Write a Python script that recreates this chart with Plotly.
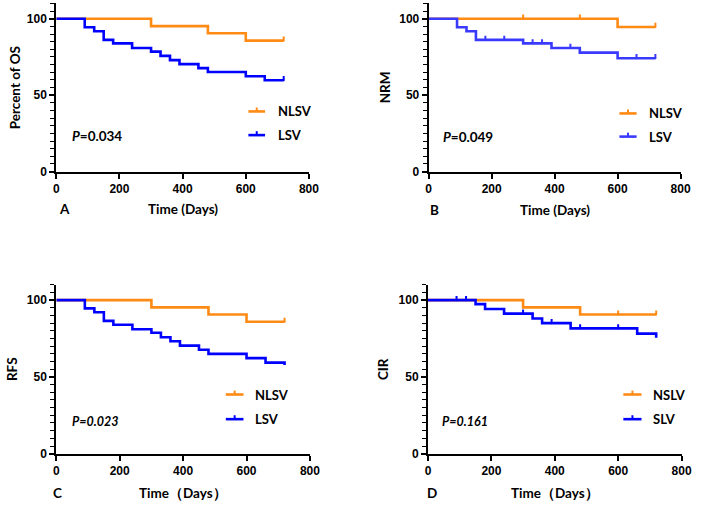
import plotly.graph_objects as go

W, H = 705, 510
ORANGE = "#FF8A14"
BLUE = "#0000FF"
BLUE_B = "#3A3AFF"

# ---------------- data ----------------
# Panel A : OS
a_nlsv_t = [0, 300, 480, 600, 720]
a_nlsv_s = [100, 95.2, 90.5, 85.7, 85.7]
a_lsv_t = [0, 90, 120, 150, 180, 240, 300, 330, 360, 390, 450, 480, 600, 660, 720]
a_lsv_s = [100, 94.4, 91.8, 86.2, 83.9, 80.9, 78.5, 75.7, 72.9, 70.3, 67.7, 65.2, 62.4, 59.8, 59.8]
a_nlsv_cens = [720]
a_lsv_cens = [720]

# Panel B : NRM
b_nlsv_t = [0, 600, 720]
b_nlsv_s = [100, 94.6, 94.6]
b_lsv_t = [0, 90, 120, 150, 300, 390, 480, 600, 720]
b_lsv_s = [100, 94.4, 91.8, 86.2, 83.9, 80.9, 77.8, 74.2, 74.2]
b_nlsv_cens = [300, 480, 720]
b_lsv_cens = [180, 240, 330, 360, 450, 660, 720]

# Panel C : RFS
c_nlsv_t = [0, 300, 480, 600, 720]
c_nlsv_s = [100, 95.3, 90.6, 85.9, 85.9]
c_lsv_t = [0, 90, 120, 150, 180, 240, 300, 330, 360, 390, 450, 480, 600, 660, 720]
c_lsv_s = [100, 94.6, 92.1, 86.5, 84.0, 81.0, 78.8, 75.8, 73.2, 70.4, 67.7, 65.0, 62.2, 59.3, 57.8]
c_nlsv_cens = [720]
c_lsv_cens = []

# Panel D : CIR
d_nslv_t = [0, 300, 480, 720]
d_nslv_s = [100, 95.3, 90.6, 90.6]
d_slv_t = [0, 150, 180, 240, 330, 360, 450, 660, 720]
d_slv_s = [100, 97.4, 94.2, 91.2, 88.0, 85.0, 81.6, 78.2, 75.5]
d_nslv_cens = [600, 720]
d_slv_cens = [90, 120, 300, 390, 480, 600]

x_ticks = [0, 200, 400, 600, 800]
y_ticks = [0, 50, 100]


def step_at(ts, ss, t):
    v = ss[0]
    for ti, si in zip(ts, ss):
        if ti <= t:
            v = si
    return v


panels = [
    dict(name="A", ytitle="Percent of OS", xtitle="Time (Days)", p="<b><i>P</i>=0.034</b>",
         groups=[("NLSV", a_nlsv_t, a_nlsv_s, a_nlsv_cens, ORANGE),
                 ("LSV", a_lsv_t, a_lsv_s, a_lsv_cens, BLUE)],
         x0=54.3, x1=311.7, y0=174.0, y100=19.0,
         yt_x=12, lbl=(55, 212), pxy=(68, 138), leg=(250, 267, 113, 137, 278)),
    dict(name="B", ytitle="NRM", xtitle="Time (Days)", p="<b><i>P</i>=0.049</b>",
         groups=[("NLSV", b_nlsv_t, b_nlsv_s, b_nlsv_cens, ORANGE),
                 ("LSV", b_lsv_t, b_lsv_s, b_lsv_cens, BLUE_B)],
         x0=433.7, x1=690.3, y0=174.0, y100=19.0,
         yt_x=389, lbl=(433, 213), pxy=(446, 139), leg=(628, 645.5, 115, 138.5, 656)),
    dict(name="C", ytitle="RFS", xtitle="Time（Days）", p="<b><i>P=0.023</i></b>",
         groups=[("NLSV", c_nlsv_t, c_nlsv_s, c_nlsv_cens, ORANGE),
                 ("LSV", c_lsv_t, c_lsv_s, c_lsv_cens, BLUE)],
         x0=54.3, x1=312.7, y0=460.0, y100=304.3,
         yt_x=9, lbl=(49, 500), pxy=(68, 427), leg=(227, 245, 400, 425, 255)),
    dict(name="D", ytitle="CIR", xtitle="Time（Days）", p="<b><i>P=0.161</i></b>",
         groups=[("NSLV", d_nslv_t, d_nslv_s, d_nslv_cens, ORANGE),
                 ("SLV", d_slv_t, d_slv_s, d_slv_cens, BLUE)],
         x0=433.0, x1=691.3, y0=460.0, y100=304.3,
         yt_x=387, lbl=(430, 500), pxy=(445, 427), leg=(632, 650.5, 400, 425, 660)),
]

TXT = "Lato"
fig = go.Figure()
layout = dict(width=W, height=H, margin=dict(l=0, r=0, t=0, b=0),
              paper_bgcolor="white", plot_bgcolor="white", showlegend=False)
annotations = []
shapes = []


def px(x):
    return x / W


def py(y):
    return 1 - y / H


for i, p in enumerate(panels):
    k = "" if i == 0 else str(i + 1)
    ytop = p["y0"] - (p["y0"] - p["y100"]) * 1.10
    layout["xaxis" + k] = dict(
        domain=[px(p["x0"]), px(p["x1"])], range=[0, 800], anchor="y" + k,
        tickvals=x_ticks, ticks="outside", ticklen=5, tickwidth=1.5, tickcolor="black",
        showline=True, linewidth=2, linecolor="black", showgrid=False, zeroline=False,
        tickfont=dict(family="Liberation Sans", size=12, color="black", weight="bold"))
    layout["yaxis" + k] = dict(
        domain=[py(p["y0"]), py(ytop)], range=[0, 110], anchor="x" + k,
        tickvals=y_ticks, ticks="outside", ticklen=5, tickwidth=1.5, tickcolor="black",
        minor=dict(dtick=5, ticks="outside", ticklen=4, tickwidth=1.2, tickcolor="black"),
        showline=True, linewidth=2, linecolor="black", showgrid=False, zeroline=False,
        tickfont=dict(family="Liberation Sans", size=12, color="black", weight="bold"))

    for (gname, ts, ss, cens, col) in p["groups"]:
        fig.add_trace(go.Scatter(x=ts, y=ss, mode="lines", line=dict(shape="hv", color=col, width=2.6),
                                 name=gname, xaxis="x" + k, yaxis="y" + k, hoverinfo="x+y"))
        if cens:
            cy = [step_at(ts, ss, t) for t in cens]
            fig.add_trace(go.Scatter(
                x=cens, y=cy, mode="markers", marker=dict(size=2, color=col),
                error_y=dict(type="data", symmetric=False, array=[2.7] * len(cens),
                             arrayminus=[0] * len(cens), color=col, thickness=2, width=0),
                xaxis="x" + k, yaxis="y" + k, showlegend=False, hoverinfo="skip"))

    # axis titles, panel label, p-value
    annotations.append(dict(text="<b>%s</b>" % p["ytitle"], x=px(p["yt_x"]), y=py((p["y0"] + ytop) / 2),
                            xref="paper", yref="paper", textangle=-90, showarrow=False,
                            xanchor="center", yanchor="middle",
                            font=dict(family=TXT, size=13.5, color="black")))
    annotations.append(dict(text="<b>%s</b>" % p["xtitle"], x=px((p["x0"] + p["x1"]) / 2), y=py(p["lbl"][1]),
                            xref="paper", yref="paper", showarrow=False, xanchor="center", yanchor="middle",
                            font=dict(family=TXT, size=13.5, color="black")))
    annotations.append(dict(text="<b>%s</b>" % p["name"], x=px(p["lbl"][0]), y=py(p["lbl"][1]),
                            xref="paper", yref="paper", showarrow=False, xanchor="left", yanchor="middle",
                            font=dict(family=TXT, size=13.5, color="black")))
    annotations.append(dict(text=p["p"], x=px(p["pxy"][0]), y=py(p["pxy"][1]),
                            xref="paper", yref="paper", showarrow=False, xanchor="left", yanchor="middle",
                            font=dict(family=TXT, size=13.5 if i < 2 else 12.5, color="black")))
    # legend
    lx0, lx1, ly1, ly2, tx = p["leg"]
    for (gname, ts, ss, cens, col), ly in zip(p["groups"], [ly1, ly2]):
        shapes.append(dict(type="line", xref="paper", yref="paper", x0=px(lx0), x1=px(lx1),
                           y0=py(ly), y1=py(ly), line=dict(color=col, width=2.6)))
        xm = (lx0 + lx1) / 2
        shapes.append(dict(type="line", xref="paper", yref="paper", x0=px(xm), x1=px(xm),
                           y0=py(ly), y1=py(ly - 4), line=dict(color=col, width=2)))
        annotations.append(dict(text="<b>%s</b>" % gname, x=px(tx), y=py(ly), xref="paper", yref="paper",
                                showarrow=False, xanchor="left", yanchor="middle",
                                font=dict(family=TXT, size=13, color="black")))

layout["annotations"] = annotations
layout["shapes"] = shapes
fig.update_layout(**layout)
fig.write_html("out.html")
